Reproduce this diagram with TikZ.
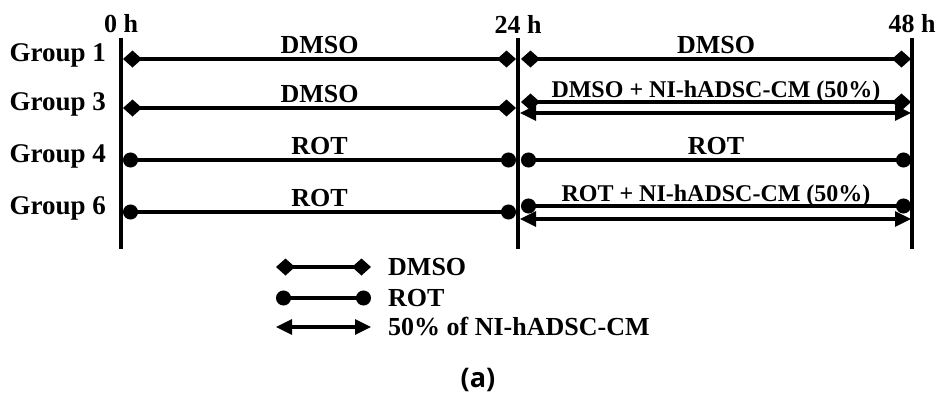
\documentclass[tikz,border=0pt]{standalone}
\usepackage{fontspec}
\setmainfont{Liberation Serif}
\newfontfamily\capfont{Open Sans}
\usetikzlibrary{arrows.meta}

\begin{document}
\begin{tikzpicture}[x=1pt, y=-1pt,
  timeline/.style={line width=4pt},
  timelabel/.style={inner sep=0pt, font=\fontsize{26}{30}\selectfont\bfseries},
  dmsoline/.style={line width=3.2pt, {Diamond[length=19pt,width=17pt]}-{Diamond[length=19pt,width=17pt]}},
  rotline/.style={line width=3.2pt, {Circle[length=15pt]}-{Circle[length=15pt]}},
  cmline/.style={line width=3.2pt, {Triangle[length=16pt,width=15pt]}-{Triangle[length=16pt,width=15pt]}},
  grouplabel/.style={anchor=east, inner sep=0pt, font=\fontsize{27}{30}\selectfont\bfseries},
  seglabel/.style={midway, anchor=base, yshift=6pt, inner sep=0pt, font=\fontsize{26}{30}\selectfont\bfseries},
  longlabel/.style={seglabel, yshift=-1pt, font=\fontsize{24}{28}\selectfont\bfseries},
  legendlabel/.style={anchor=west, inner sep=0pt, font=\fontsize{26}{30}\selectfont\bfseries}]
  \useasboundingbox (0,0) rectangle (942,402);

  % time axes
  \foreach \x/\t/\n in {121/0 h/t0, 518/24 h/t24, 912/48 h/t48} {
    \node[timelabel] (\n) at (\x,24) {\t};
    \coordinate (\n top) at (\x,38);
    \coordinate (\n bot) at (\x,249);
    \draw[timeline] (\n top) -- (\n bot);
  }

  % groups, 0 h to 24 h
  \foreach \n/\g/\y/\s/\t in {g1/1/59/dmsoline/DMSO, g3/3/108/dmsoline/DMSO, g4/4/160/rotline/ROT, g6/6/212/rotline/ROT} {
    \node[grouplabel] (\n) at (106,\y-4) {Group \g};
    \coordinate (\n a) at (123,\y);
    \coordinate (\n b) at (516,\y);
    \draw[\s] (\n a) -- (\n b) node[seglabel] {\t};
  }

  % 24 h to 48 h
  \coordinate (g1c) at (521,59);  \coordinate (g1d) at (911,59);
  \coordinate (g3c) at (521,102); \coordinate (g3d) at (911,102);
  \coordinate (g3e) at (520,113); \coordinate (g3f) at (911,113);
  \coordinate (g4c) at (521,160); \coordinate (g4d) at (911,160);
  \coordinate (g6c) at (521,206); \coordinate (g6d) at (911,206);
  \coordinate (g6e) at (520,219); \coordinate (g6f) at (911,219);
  \draw[dmsoline] (g1c) -- (g1d) node[seglabel] {DMSO};
  \draw[dmsoline] (g3c) -- (g3d) node[longlabel] {DMSO + NI-hADSC-CM (50\%)};
  \draw[cmline] (g3e) -- (g3f);
  \draw[rotline] (g4c) -- (g4d) node[seglabel] {ROT};
  \draw[rotline] (g6c) -- (g6d) node[longlabel] {ROT + NI-hADSC-CM (50\%)};
  \draw[cmline] (g6e) -- (g6f);

  % legend
  \foreach \n/\y/\s/\t in {lgd/267/dmsoline/DMSO, lgr/298/rotline/ROT, lgc/327/cmline/50\% of NI-hADSC-CM} {
    \coordinate (\n a) at (276,\y);
    \coordinate (\n b) at (371,\y);
    \draw[\s] (\n a) -- (\n b);
    \node[legendlabel] (\n) at (388,\y) {\t};
  }

  \node[font=\capfont\bfseries\fontsize{27}{30}\selectfont] (cap) at (478,380) {(a)};
\end{tikzpicture}
\end{document}
